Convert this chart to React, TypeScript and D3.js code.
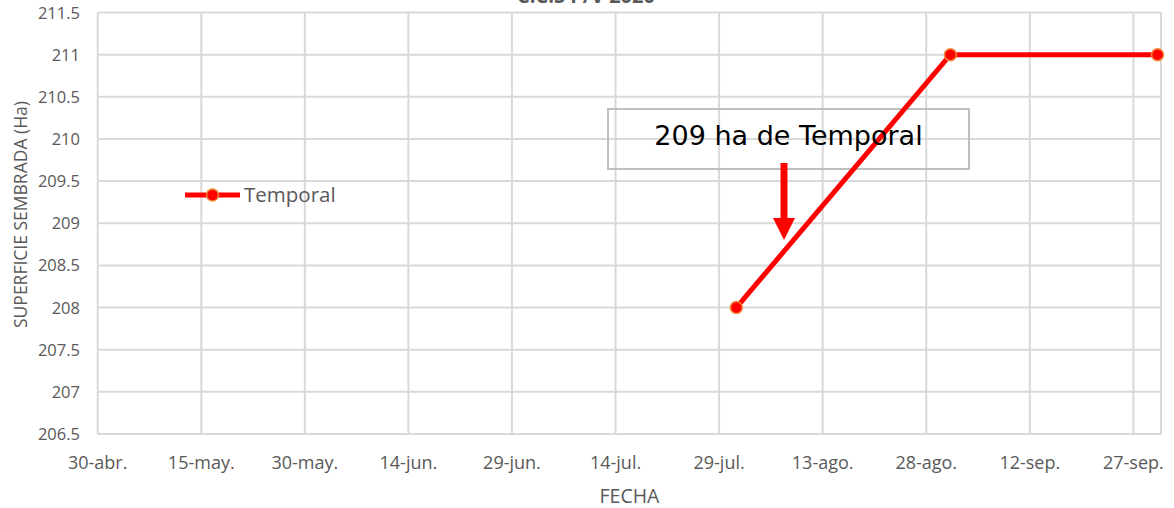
import React from "react";
import * as d3 from "d3";

const title = "C.C.S P/V 2020";
const seriesName = "Temporal";
const dates = ["2020-07-31 12:00", "2020-08-31 12:00", "2020-09-30 12:00"];
const values = [208, 211, 211];
const xTickLabels = ["30-abr.", "15-may.", "30-may.", "14-jun.", "29-jun.", "14-jul.", "29-jul.", "13-ago.", "28-ago.", "12-sep.", "27-sep."];
const yTicks = [206.5, 207, 207.5, 208, 208.5, 209, 209.5, 210, 210.5, 211, 211.5];
const annotation = "209 ha de Temporal";
const xLabel = "FECHA";
const yLabel = "SUPERFICIE SEMBRADA (Ha)";

const W = 1174, H = 508;
const L = 97.7, R = 1161, T = 12.5, B = 434;

export default function App() {
  const parse = d3.timeParse("%Y-%m-%d %H:%M");
  const start = parse("2020-04-30 00:00")!;
  const end = d3.timeDay.offset(start, 154);
  const x = d3.scaleTime().domain([start, end]).range([L, R]);
  const y = d3.scaleLinear().domain([206.5, 211.5]).range([B, T]);
  const tickDates = xTickLabels.map((_, i) => d3.timeDay.offset(start, i * 15));
  const pts = dates.map((d, i) => [x(parse(d)!), y(values[i])] as [number, number]);
  const line = d3.line()(pts) || "";
  const grid = "#d9d9d9";
  const txt = "#595959";
  const font = "'Open Sans', sans-serif";
  return (
    <svg width={W} height={H} style={{ position: "absolute", left: 0, top: 0, background: "#fff" }}>
      <text x={586} y={3} textAnchor="middle" fontFamily={font} fontWeight={700} fontSize={20} fill={txt}>{title}</text>
      {yTicks.map((t) => (
        <line key={"h" + t} x1={L} x2={R} y1={y(t)} y2={y(t)} stroke={grid} strokeWidth={2} />
      ))}
      {tickDates.map((d, i) => (
        <line key={"v" + i} x1={x(d)} x2={x(d)} y1={T} y2={B} stroke={grid} strokeWidth={2} />
      ))}
      <line x1={R} x2={R} y1={T} y2={B} stroke={grid} strokeWidth={2} />
      {yTicks.map((t) => (
        <text key={"yl" + t} x={80} y={y(t) + 6} textAnchor="end" fontFamily={font} fontSize={16.5} fill={txt}>{t}</text>
      ))}
      {tickDates.map((d, i) => (
        <text key={"xl" + i} x={x(d)} y={469} textAnchor="middle" fontFamily={font} fontSize={18} fill={txt}>{xTickLabels[i]}</text>
      ))}
      <text x={629.5} y={503} textAnchor="middle" fontFamily={font} fontSize={19.5} fill={txt}>{xLabel}</text>
      <text transform="translate(27,214.5) rotate(-90)" textAnchor="middle" fontFamily={font} fontSize={17.5} fill={txt}>{yLabel}</text>
      <rect x={608} y={109} width={361} height={60} fill="none" stroke="#bfbfbf" strokeWidth={2} />
      <path d={line} fill="none" stroke="#ff0000" strokeWidth={5} />
      {pts.map((p, i) => (
        <circle key={"c" + i} cx={p[0]} cy={p[1]} r={6} fill="#ff0000" stroke="#f08a3a" strokeWidth={1.5} />
      ))}
      <text x={788.5} y={145} textAnchor="middle" fontFamily="'DejaVu Sans', sans-serif" fontSize={27} fill="#000">{annotation}</text>
      <rect x={780.5} y={163} width={7} height={56} fill="#ff0000" />
      <path d="M773,218 L795,218 L784,240 Z" fill="#ff0000" />
      <line x1={185} x2={240} y1={195} y2={195} stroke="#ff0000" strokeWidth={5} />
      <circle cx={212.5} cy={195} r={6} fill="#ff0000" stroke="#f08a3a" strokeWidth={1.5} />
      <text x={244} y={202} fontFamily={font} fontSize={20.5} fill={txt}>{seriesName}</text>
    </svg>
  );
}
